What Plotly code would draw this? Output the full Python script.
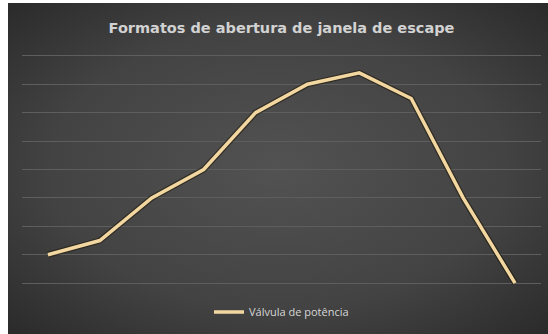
import base64
import plotly.graph_objects as go

# Exhaust-port opening profile for the power valve
points = ["1", "2", "3", "4", "5", "6", "7", "8", "9", "10"]
valvula_potencia = [1.0, 1.5, 3.0, 4.0, 6.0, 7.0, 7.4, 6.5, 3.0, 0.0]

title_text = "Formatos de abertura de janela de escape"
series_name = "Válvula de potência"

W, H = 548, 334
PLOT_H = 233

# Dark radial-gradient panel used as chart background
svg = f"""<svg xmlns='http://www.w3.org/2000/svg' width='540' height='331' viewBox='0 0 540 331'>
<defs><radialGradient id='g' cx='50%' cy='50%' r='70%'>
<stop offset='0%' stop-color='#525252'/>
<stop offset='60%' stop-color='#434343'/>
<stop offset='100%' stop-color='#2b2b2b'/>
</radialGradient></defs>
<rect width='540' height='331' fill='url(#g)'/></svg>"""
bg_uri = "data:image/svg+xml;base64," + base64.b64encode(svg.encode()).decode()

line_color = "#F3D7A0"

fig = go.Figure()

# soft dark edge under the series line
fig.add_trace(go.Scatter(
    x=points, y=valvula_potencia, mode="lines",
    line=dict(color="rgba(30,22,8,0.55)", width=6),
    hoverinfo="skip", showlegend=False,
))
fig.add_trace(go.Scatter(
    x=points, y=valvula_potencia, mode="lines", name=series_name,
    line=dict(color=line_color, width=3.5),
))

fig.update_layout(
    width=W, height=H,
    margin=dict(l=22, r=7, t=53, b=48, pad=0),
    paper_bgcolor="#ffffff",
    plot_bgcolor="rgba(0,0,0,0)",
    images=[dict(
        source=bg_uri, xref="paper", yref="paper",
        x=-14 / 519, y=1 + 50 / PLOT_H, sizex=540 / 519, sizey=331 / PLOT_H,
        xanchor="left", yanchor="top", sizing="stretch", layer="below",
    )],
    title=dict(
        text=title_text, x=0.5, xanchor="center", xref="paper",
        y=1 - 28 / H, yanchor="middle", yref="container",
        font=dict(family="DejaVu Sans", size=14.5, color="#d2d2d2", weight="bold"),
    ),
    xaxis=dict(
        type="category", range=[-0.5, 9.5], showgrid=False, zeroline=False,
        showticklabels=False, showline=False, ticks="",
    ),
    yaxis=dict(
        range=[-0.1, 8.1], dtick=1, showgrid=True, gridcolor="#5e5e5e", gridwidth=1,
        zeroline=False, showticklabels=False, showline=False, ticks="",
    ),
    showlegend=True,
    legend=dict(
        orientation="h", x=0.5, xanchor="center", y=-26 / PLOT_H, yanchor="middle",
        font=dict(family="Open Sans", size=11, color="#d6d6d6"),
        bgcolor="rgba(0,0,0,0)", itemwidth=30,
    ),
)

fig.write_html("out.html")
